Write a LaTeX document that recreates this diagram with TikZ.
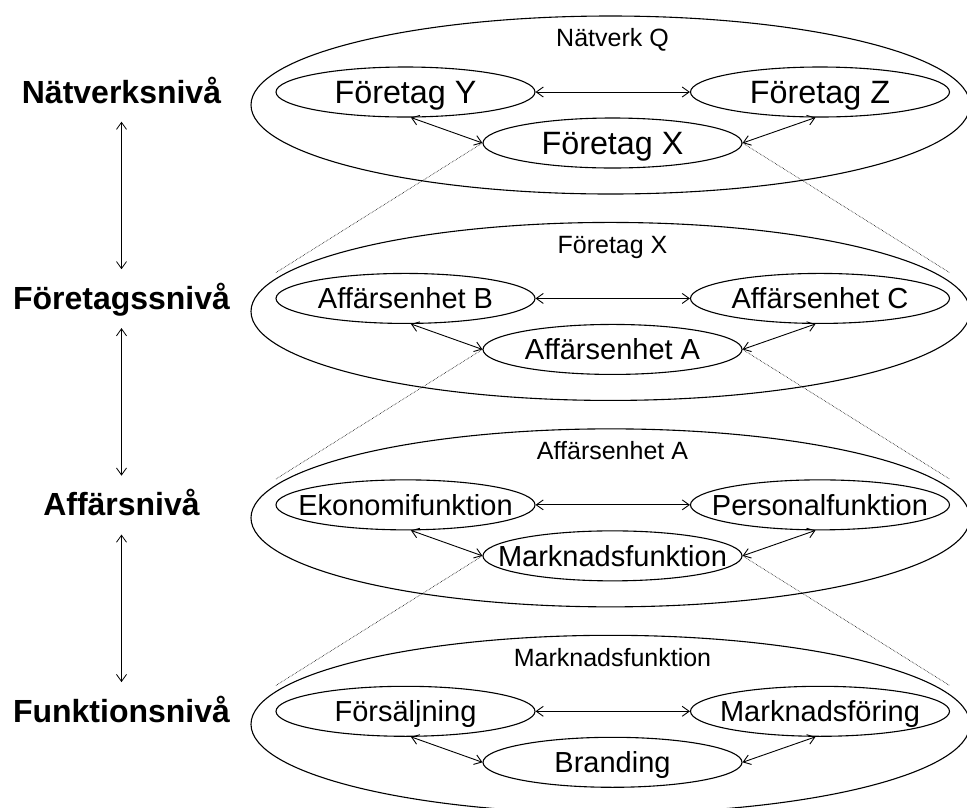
\documentclass[tikz,border=0pt]{standalone}
\usepackage{fontspec}
\setmainfont{Liberation Sans}
\usetikzlibrary{arrows.meta,shapes.geometric}

\tikzset{
  outerring/.style={draw, ellipse, line width=1.1pt, minimum width=719pt,
    minimum height=178pt, inner sep=0pt},
  unitring/.style={draw, ellipse, line width=1.1pt, minimum width=259pt,
    minimum height=50pt, inner sep=0pt},
  unitname/.style={inner sep=0pt, text depth=0pt},
  ringname/.style={inner sep=0pt, anchor=base, font=\fontsize{25}{25}\selectfont},
  levelname/.style={inner sep=0pt, anchor=base, text height=23pt, text depth=0pt,
    font=\fontsize{32}{32}\selectfont\bfseries},
  link/.style={line width=0.9pt, {Straight Barb[length=7pt,width=10pt]}-{Straight Barb[length=7pt,width=10pt]}},
  levellink/.style={line width=0.8pt, shorten <=18.5pt, shorten >=17pt,
    {Straight Barb[length=7pt,width=10pt]}-{Straight Barb[length=7pt,width=10pt]}},
  zoomline/.style={densely dotted, line width=0.6pt}
}

\begin{document}
\begin{tikzpicture}[x=1pt, y=-1pt]
  \useasboundingbox (0,0) rectangle (967,807);
  \clip (0,0) rectangle (967,807);

  \foreach \k/\ring/\lname/\rname/\mname/\level/\fs in {
      0/Nätverk Q/Företag Y/Företag Z/Företag X/Nätverksnivå/32.3,
      1/Företag X/Affärsenhet B/Affärsenhet C/Affärsenhet A/Företagssnivå/29,
      2/Affärsenhet A/Ekonomifunktion/Personalfunktion/Marknadsfunktion/Affärsnivå/29,
      3/Marknadsfunktion/Försäljning/Marknadsföring/Branding/Funktionsnivå/29} {
    \pgfmathsetmacro\row{92+206.43*\k}
    \pgfmathsetmacro\caph{0.716*\fs}
    % enclosing ring of the level and its title
    \node[outerring] (big\k) at (610.5, \row+13) {};
    \node[ringname] (bigname\k) at (612.5, \row-45.3) {\ring};
    % the three units inside the ring
    \node[unitring] (l\k) at (405.5, \row) {};
    \node[unitring] (r\k) at (820, \row) {};
    \node[unitring] (m\k) at (612.5, \row+51) {};
    \node[unitname, text height=\caph pt, font=\fontsize{\fs}{\fs}\selectfont] (lt\k) at (l\k) {\lname};
    \node[unitname, text height=\caph pt, font=\fontsize{\fs}{\fs}\selectfont] (rt\k) at (r\k) {\rname};
    \node[unitname, text height=\caph pt, font=\fontsize{\fs}{\fs}\selectfont] (mt\k) at (m\k) {\mname};
    % relations between the units
    \draw[link] (l\k.east) -- (r\k.west);
    \draw[link] (l\k.-78) -- (m\k.west);
    \draw[link] (r\k.-100) -- (m\k.east);
    % level caption on the left
    \node[levelname] (lev\k) at (121.5, \row+11) {\level};
  }

  % each middle unit opens up into the level below
  \foreach \k/\n in {0/1, 1/2, 2/3} {
    \draw[zoomline] (m\k.west) -- (l\n.west |- l\n.north);
    \draw[zoomline] (m\k.east) -- (r\n.east |- r\n.north);
    \draw[levellink] (lev\k.south) -- (lev\n.north);
  }
\end{tikzpicture}
\end{document}
